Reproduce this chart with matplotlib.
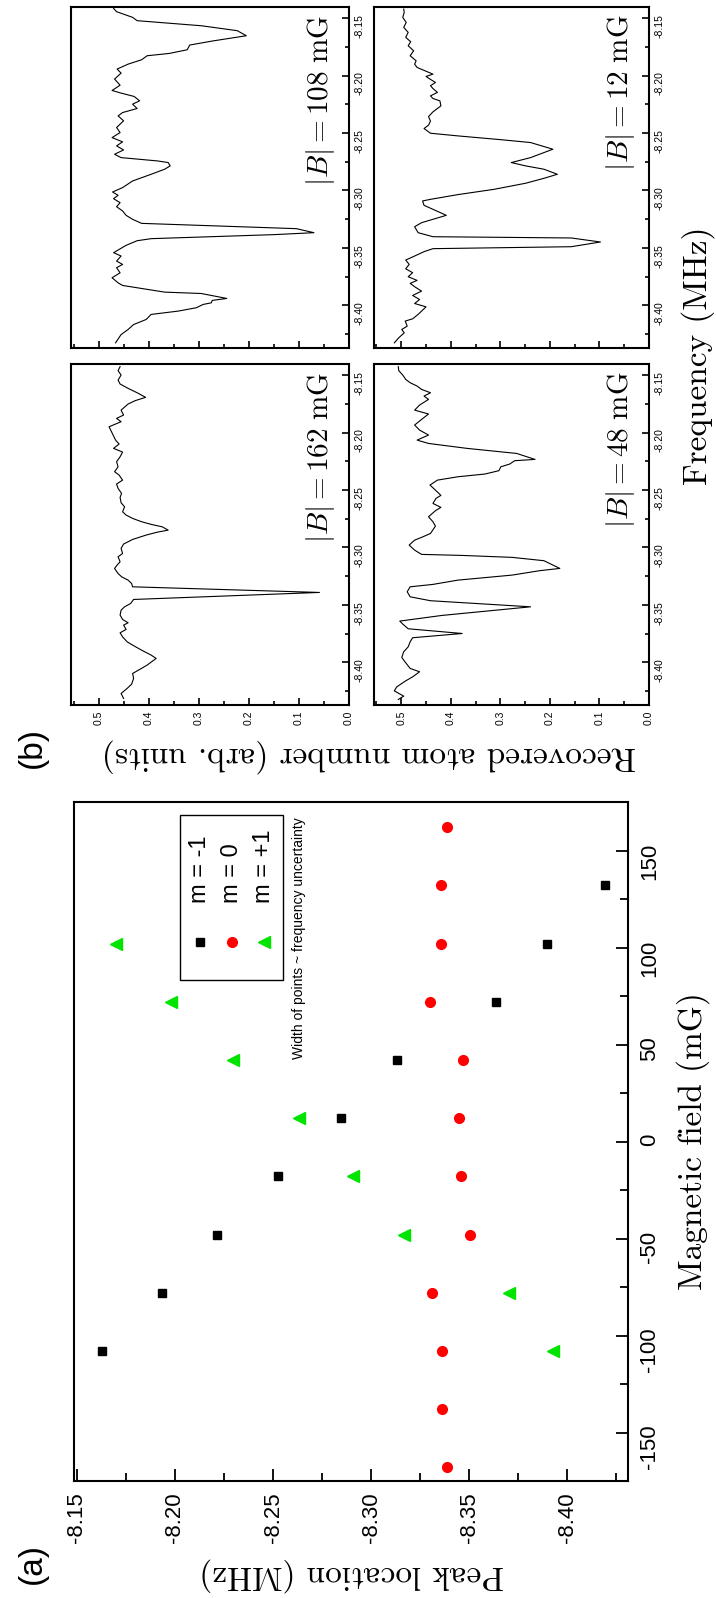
import matplotlib
matplotlib.use("Agg")
import matplotlib.pyplot as plt
from matplotlib.ticker import MultipleLocator, FormatStrFormatter
from matplotlib.patches import Rectangle

plt.rcParams['font.family'] = ['Liberation Sans', 'DejaVu Sans']
plt.rcParams['mathtext.fontset'] = 'cm'
plt.rcParams['axes.unicode_minus'] = False

# ---- panel (a): peak location vs magnetic field ----
field_m0 = [-168, -138, -108, -78, -48, -18, 12, 42, 72, 102, 132, 162]
peak_m0 = [-8.3387, -8.3359, -8.3364, -8.3311, -8.3502, -8.3456,
           -8.3449, -8.3467, -8.3301, -8.3357, -8.3357, -8.3387]
field_mminus = [-108, -78, -48, -18, 12, 42, 72, 102, 132]
peak_mminus = [-8.1627, -8.1932, -8.2216, -8.2525, -8.2849, -8.3133,
               -8.3636, -8.3895, -8.4195]
field_mplus = [-108, -78, -48, -18, 12, 42, 72, 102]
peak_mplus = [-8.3930, -8.3703, -8.3167, -8.2909, -8.2632, -8.2294,
              -8.1978, -8.1701]

# ---- panel (b): spectra (frequency MHz, recovered atom number) ----
freq_108 = [-8.4325, -8.4253, -8.4209, -8.4166, -8.4122, -8.4078, -8.4049, -8.4020,
            -8.3991, -8.3977, -8.3956, -8.3939, -8.3896, -8.3884, -8.3826, -8.3803,
            -8.3759, -8.3716, -8.3672, -8.3643, -8.3614, -8.3570, -8.3541, -8.3477,
            -8.3437, -8.3419, -8.3384, -8.3367, -8.3332, -8.3286, -8.3251, -8.3216,
            -8.3178, -8.3141, -8.3106, -8.3071, -8.3042, -8.3013, -8.2975, -8.2917,
            -8.2859, -8.2815, -8.2786, -8.2757, -8.2743, -8.2714, -8.2685, -8.2647,
            -8.2612, -8.2577, -8.2540, -8.2496, -8.2452, -8.2394, -8.2351, -8.2322,
            -8.2287, -8.2249, -8.2220, -8.2182, -8.2153, -8.2130, -8.2084, -8.2031,
            -8.1979, -8.1944, -8.1901, -8.1863, -8.1828, -8.1808, -8.1776, -8.1735,
            -8.1700, -8.1654, -8.1610, -8.1567, -8.1523, -8.1494, -8.1445, -8.1416]
atoms_108 = [0.466, 0.455, 0.441, 0.430, 0.405, 0.395, 0.341, 0.305,
             0.291, 0.275, 0.273, 0.244, 0.295, 0.368, 0.452, 0.461,
             0.473, 0.457, 0.464, 0.452, 0.464, 0.455, 0.470, 0.445,
             0.423, 0.395, 0.150, 0.070, 0.105, 0.414, 0.432, 0.445,
             0.452, 0.464, 0.457, 0.470, 0.461, 0.472, 0.452, 0.432,
             0.395, 0.368, 0.357, 0.361, 0.382, 0.455, 0.468, 0.450,
             0.464, 0.452, 0.473, 0.457, 0.464, 0.450, 0.461, 0.452,
             0.423, 0.432, 0.418, 0.429, 0.455, 0.473, 0.457, 0.468,
             0.455, 0.463, 0.441, 0.414, 0.403, 0.359, 0.323, 0.318,
             0.273, 0.205, 0.223, 0.295, 0.423, 0.432, 0.464, 0.470]

freq_12 = [-8.4325, -8.4281, -8.4238, -8.4209, -8.4180, -8.4136, -8.4116, -8.4078,
           -8.4049, -8.4012, -8.3983, -8.3948, -8.3913, -8.3875, -8.3837, -8.3808,
           -8.3782, -8.3750, -8.3715, -8.3681, -8.3643, -8.3605, -8.3570, -8.3532,
           -8.3506, -8.3489, -8.3448, -8.3413, -8.3402, -8.3367, -8.3315, -8.3280,
           -8.3216, -8.3129, -8.3091, -8.3077, -8.3036, -8.2990, -8.2937, -8.2894,
           -8.2859, -8.2815, -8.2786, -8.2757, -8.2714, -8.2641, -8.2583, -8.2560,
           -8.2525, -8.2502, -8.2461, -8.2432, -8.2397, -8.2357, -8.2316, -8.2264,
           -8.2220, -8.2200, -8.2177, -8.2147, -8.2113, -8.2089, -8.2060, -8.2031,
           -8.2008, -8.1988, -8.1959, -8.1930, -8.1901, -8.1872, -8.1828, -8.1785,
           -8.1741, -8.1706, -8.1668, -8.1625, -8.1581, -8.1538, -8.1494, -8.1451,
           -8.1422]
atoms_12 = [0.514, 0.505, 0.494, 0.499, 0.488, 0.492, 0.477, 0.466,
            0.459, 0.450, 0.473, 0.463, 0.477, 0.459, 0.473, 0.482,
            0.468, 0.486, 0.477, 0.491, 0.484, 0.491, 0.473, 0.454,
            0.436, 0.157, 0.098, 0.157, 0.436, 0.466, 0.473, 0.459,
            0.409, 0.454, 0.457, 0.441, 0.386, 0.313, 0.249, 0.212,
            0.185, 0.212, 0.249, 0.278, 0.239, 0.194, 0.239, 0.294,
            0.386, 0.441, 0.454, 0.445, 0.441, 0.445, 0.436, 0.420,
            0.422, 0.436, 0.441, 0.427, 0.436, 0.441, 0.431, 0.442,
            0.450, 0.436, 0.452, 0.468, 0.473, 0.470, 0.482, 0.475,
            0.486, 0.481, 0.491, 0.486, 0.495, 0.490, 0.497, 0.494,
            0.495]

freq_162 = [-8.4313, -8.4270, -8.4226, -8.4189, -8.4139, -8.4096, -8.4061, -8.4023,
            -8.3965, -8.3936, -8.3893, -8.3849, -8.3820, -8.3777, -8.3742, -8.3713,
            -8.3675, -8.3655, -8.3626, -8.3588, -8.3545, -8.3516, -8.3487, -8.3452,
            -8.3391, -8.3342, -8.3313, -8.3284, -8.3255, -8.3226, -8.3182, -8.3153,
            -8.3124, -8.3081, -8.3052, -8.3008, -8.2970, -8.2930, -8.2892, -8.2866,
            -8.2849, -8.2820, -8.2799, -8.2776, -8.2747, -8.2718, -8.2689, -8.2646,
            -8.2611, -8.2564, -8.2530, -8.2486, -8.2448, -8.2414, -8.2370, -8.2341,
            -8.2298, -8.2254, -8.2211, -8.2170, -8.2138, -8.2100, -8.2066, -8.1950,
            -8.1906, -8.1877, -8.1848, -8.1805, -8.1752, -8.1723, -8.1694, -8.1654,
            -8.1616, -8.1578, -8.1544, -8.1500, -8.1462, -8.1427]
atoms_162 = [0.450, 0.455, 0.443, 0.434, 0.430, 0.432, 0.418, 0.403,
             0.385, 0.395, 0.414, 0.432, 0.443, 0.452, 0.457, 0.445,
             0.450, 0.441, 0.452, 0.457, 0.455, 0.448, 0.436, 0.430,
             0.059, 0.432, 0.434, 0.441, 0.454, 0.461, 0.468, 0.463,
             0.457, 0.461, 0.452, 0.455, 0.450, 0.432, 0.405, 0.382,
             0.361, 0.373, 0.395, 0.414, 0.432, 0.445, 0.452, 0.448,
             0.455, 0.457, 0.454, 0.461, 0.464, 0.452, 0.459, 0.468,
             0.461, 0.464, 0.457, 0.452, 0.470, 0.459, 0.466, 0.479,
             0.455, 0.464, 0.450, 0.455, 0.441, 0.427, 0.406, 0.423,
             0.441, 0.457, 0.461, 0.455, 0.461, 0.457]

freq_48 = [-8.4322, -8.4293, -8.4247, -8.4212, -8.4160, -8.4125, -8.4081, -8.4052,
           -8.4003, -8.3956, -8.3907, -8.3864, -8.3820, -8.3785, -8.3748, -8.3707,
           -8.3666, -8.3640, -8.3617, -8.3591, -8.3516, -8.3463, -8.3429, -8.3385,
           -8.3342, -8.3321, -8.3284, -8.3240, -8.3202, -8.3182, -8.3115, -8.3086,
           -8.3069, -8.3060, -8.3023, -8.2979, -8.2936, -8.2912, -8.2878, -8.2814,
           -8.2776, -8.2733, -8.2680, -8.2651, -8.2617, -8.2573, -8.2547, -8.2501,
           -8.2457, -8.2414, -8.2385, -8.2361, -8.2332, -8.2298, -8.2274, -8.2245,
           -8.2234, -8.2182, -8.2138, -8.2095, -8.2066, -8.2022, -8.1979, -8.1935,
           -8.1886, -8.1839, -8.1805, -8.1761, -8.1712, -8.1683, -8.1654, -8.1625,
           -8.1596, -8.1567, -8.1538, -8.1500, -8.1462, -8.1427]
atoms_48 = [0.506, 0.495, 0.514, 0.509, 0.491, 0.477, 0.463, 0.482,
            0.491, 0.499, 0.495, 0.486, 0.482, 0.477, 0.377, 0.486,
            0.497, 0.503, 0.463, 0.418, 0.239, 0.441, 0.482, 0.488,
            0.482, 0.436, 0.386, 0.276, 0.221, 0.180, 0.212, 0.276,
            0.377, 0.459, 0.473, 0.484, 0.473, 0.459, 0.441, 0.431,
            0.436, 0.445, 0.431, 0.420, 0.436, 0.430, 0.420, 0.431,
            0.442, 0.427, 0.386, 0.331, 0.303, 0.299, 0.281, 0.271,
            0.230, 0.267, 0.367, 0.445, 0.468, 0.445, 0.463, 0.473,
            0.459, 0.445, 0.473, 0.463, 0.445, 0.454, 0.441, 0.459,
            0.468, 0.482, 0.491, 0.497, 0.505, 0.506]

FIG_W, FIG_H = 716, 1598
fig = plt.figure(figsize=(FIG_W / 100, FIG_H / 100), dpi=100)


def px_axes(x0, y0, x1, y1):
    # pixel box (top-left origin) -> figure axes
    return fig.add_axes([x0 / FIG_W, 1 - y1 / FIG_H, (x1 - x0) / FIG_W, (y1 - y0) / FIG_H])


def fig_text(x, y, s, **kw):
    fig.text(x / FIG_W, 1 - y / FIG_H, s, **kw)


def spectrum(ax, atoms, freqs, label, show_atom_labels):
    ax.plot(atoms, freqs, color='black', lw=0.8)
    ax.set_xlim(0.555, 0)
    ax.set_ylim(-8.437, -8.1404)
    ax.xaxis.set_major_locator(MultipleLocator(0.1))
    ax.xaxis.set_minor_locator(MultipleLocator(0.05))
    ax.yaxis.set_major_locator(MultipleLocator(0.05))
    ax.yaxis.set_minor_locator(MultipleLocator(0.025))
    ax.xaxis.set_major_formatter(FormatStrFormatter('%.1f'))
    ax.yaxis.set_major_formatter(FormatStrFormatter('%.2f'))
    ax.yaxis.tick_right()
    ax.tick_params(which='both', direction='in', width=1.2, labelsize=7.5, labelrotation=90, pad=4)
    ax.tick_params(which='major', length=5)
    ax.tick_params(which='minor', length=3)
    ax.tick_params(axis='x', labelbottom=show_atom_labels)
    for sp in ax.spines.values():
        sp.set_linewidth(1.5)
    ax.text(0.896, 0.977, label, transform=ax.transAxes, rotation=90,
            ha='center', va='top', fontsize=21)


spectrum(px_axes(71, 7, 349, 348), atoms_108, freq_108, r'$|B| = 108\ \mathrm{mG}$', False)
spectrum(px_axes(374, 7, 649, 348), atoms_12, freq_12, r'$|B| = 12\ \mathrm{mG}$', False)
spectrum(px_axes(71, 364, 349, 705), atoms_162, freq_162, r'$|B| = 162\ \mathrm{mG}$', True)
spectrum(px_axes(374, 364, 649, 705), atoms_48, freq_48, r'$|B| = 48\ \mathrm{mG}$', True)

fig_text(698, 356, 'Frequency (MHz)', family='cmr10', fontsize=24, rotation=90, ha='center', va='center')
fig_text(369, 756, 'Recovered atom number (arb. units)', family='cmr10', fontsize=24,
         rotation=180, ha='center', va='center')
fig_text(32, 748, '(b)', fontsize=24, rotation=90, ha='center', va='center')

# panel (a)
ax = px_axes(74, 802, 628, 1481)
ax.plot(peak_mminus, field_mminus, 's', color='black', ms=6)
ax.plot(peak_m0, field_m0, 'o', color='red', ms=7)
ax.plot(peak_mplus, field_mplus, '<', color='#00e400', ms=8)
ax.set_xlim(-8.1485, -8.431)
ax.set_ylim(-175, 175)
ax.xaxis.set_major_locator(MultipleLocator(0.05))
ax.xaxis.set_minor_locator(MultipleLocator(0.025))
ax.xaxis.set_major_formatter(FormatStrFormatter('%.2f'))
ax.yaxis.set_major_locator(MultipleLocator(50))
ax.yaxis.set_minor_locator(MultipleLocator(25))
ax.yaxis.tick_right()
ax.tick_params(which='both', direction='in', width=1.3, labelsize=16, labelrotation=90, pad=8)
ax.tick_params(which='major', length=9)
ax.tick_params(which='minor', length=5.5)
for sp in ax.spines.values():
    sp.set_linewidth(1.5)

# legend, laid out for the rotated page
ax.add_patch(Rectangle((0.191, 0.738), 0.186, 0.243, transform=ax.transAxes,
                       fill=False, lw=1.0, ec='black'))
leg_items = [('s', 'black', 6, 'm = -1'), ('o', 'red', 7, 'm = 0'), ('<', '#00e400', 8, 'm = +1')]
for i, (mk, col, ms, lab) in enumerate(leg_items):
    lx = 0.227 + i * 0.058
    ax.plot([lx], [0.794], mk, color=col, ms=ms, transform=ax.transAxes)
    ax.text(lx, 0.851, lab, transform=ax.transAxes, rotation=90, ha='center', va='bottom', fontsize=17)
ax.text(0.406, 0.978, 'Width of points ~ frequency uncertainty', transform=ax.transAxes,
        rotation=90, ha='center', va='top', fontsize=10)

fig_text(693, 1141, 'Magnetic field (mG)', family='cmr10', fontsize=24, rotation=90, ha='center', va='center')
fig_text(352, 1575, 'Peak location (MHz)', family='cmr10', fontsize=24, rotation=180, ha='center', va='center')
fig_text(32, 1563, '(a)', fontsize=24, rotation=90, ha='center', va='center')

fig.savefig('out.png', dpi=100)
